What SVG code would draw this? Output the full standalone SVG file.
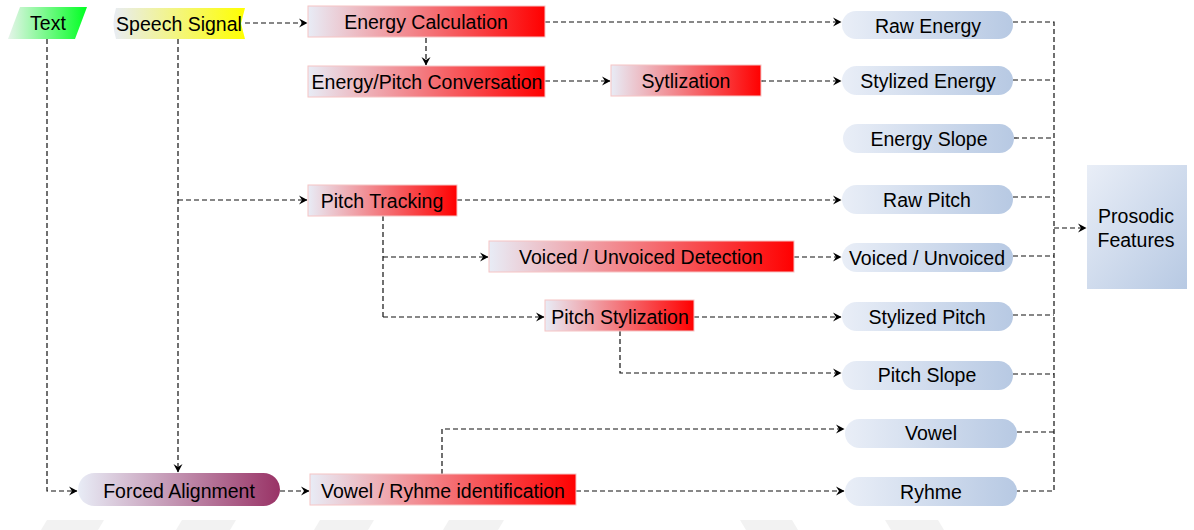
<svg xmlns="http://www.w3.org/2000/svg" width="1194" height="530" viewBox="0 0 1194 530">
  <defs>
    <linearGradient id="gRed" x1="0" y1="0" x2="1" y2="0">
      <stop offset="0" stop-color="#e8ecf6"/>
      <stop offset="1" stop-color="#ff0000"/>
    </linearGradient>
    <linearGradient id="gBlue" x1="0" y1="0" x2="1" y2="0">
      <stop offset="0" stop-color="#e9eef7"/>
      <stop offset="1" stop-color="#b7c9e3"/>
    </linearGradient>
    <linearGradient id="gBox" x1="0" y1="0" x2="1" y2="1">
      <stop offset="0" stop-color="#e9eef7"/>
      <stop offset="1" stop-color="#b7c9e3"/>
    </linearGradient>
    <linearGradient id="gGreen" x1="0" y1="0" x2="1" y2="0">
      <stop offset="0" stop-color="#e6f4ea"/>
      <stop offset="1" stop-color="#00ff22"/>
    </linearGradient>
    <linearGradient id="gYellow" x1="0" y1="0" x2="1" y2="0">
      <stop offset="0" stop-color="#e8ecf4"/>
      <stop offset="1" stop-color="#ffff00"/>
    </linearGradient>
    <linearGradient id="gPurple" x1="0" y1="0" x2="1" y2="0">
      <stop offset="0" stop-color="#e8ecf6"/>
      <stop offset="1" stop-color="#993366"/>
    </linearGradient>
    <marker id="arr" viewBox="0 0 10 10" refX="9" refY="5" markerWidth="10" markerHeight="10" markerUnits="userSpaceOnUse" orient="auto">
      <path d="M1,0.5 L9.5,5 L1,9.5 L4,5 Z" fill="#000"/>
    </marker>
  </defs>
  <style>
    text { font-family: "Liberation Sans", Arial, sans-serif; font-size: 19.5px; fill: #000; text-anchor: middle; dominant-baseline: central; }
    .proc { fill: url(#gRed); stroke: #f6c4c4; stroke-width: 1; }
    .out { fill: url(#gBlue); }
    .link { fill: none; stroke: #111; stroke-width: 1.2; stroke-dasharray: 5 3; }
    .arrow { marker-end: url(#arr); }
    .mark { fill: #f2f2f2; }
  </style>

  <rect width="1194" height="530" fill="#ffffff"/>

  <!-- faint footer marks -->
  <g id="footer">
    <polygon class="mark" points="47,520 104,520 98,530 41,530"/>
    <polygon class="mark" points="182,520 236,520 230,530 176,530"/>
    <polygon class="mark" points="320,520 374,520 368,530 314,530"/>
    <polygon class="mark" points="449,520 504,520 498,530 443,530"/>
    <polygon class="mark" points="740,520 792,520 798,530 746,530"/>
    <polygon class="mark" points="885,520 938,520 944,530 891,530"/>
  </g>

  <g id="connectors">
    <!-- energy branch -->
    <path class="link arrow" d="M245,23 H307"/>
    <path class="link arrow" d="M545,22 H841"/>
    <path class="link arrow" d="M426,38 V65"/>
    <path class="link arrow" d="M545,81 H610"/>
    <path class="link arrow" d="M761,81 H841"/>
    <!-- speech signal trunk -->
    <path class="link arrow" d="M178,39 V472"/>
    <path class="link arrow" d="M178,200 H307"/>
    <!-- text to forced alignment -->
    <path class="link arrow" d="M47,39 V491 H77"/>
    <!-- pitch branch -->
    <path class="link arrow" d="M457,200 H841"/>
    <path class="link" d="M383,216 V317"/>
    <path class="link arrow" d="M383,257 H488"/>
    <path class="link arrow" d="M383,317 H544"/>
    <path class="link arrow" d="M794,257 H841"/>
    <path class="link arrow" d="M694,317 H841"/>
    <path class="link arrow" d="M620,331 V373 H841"/>
    <!-- alignment branch -->
    <path class="link arrow" d="M280,491 H309"/>
    <path class="link arrow" d="M442,474 V429 H844"/>
    <path class="link arrow" d="M576,491 H844"/>
    <!-- collection bus -->
    <path class="link" d="M1013,22 H1054 V491 H1017"/>
    <path class="link" d="M1013,80 H1054"/>
    <path class="link" d="M1014,138 H1054"/>
    <path class="link" d="M1013,197 H1054"/>
    <path class="link" d="M1013,256 H1054"/>
    <path class="link" d="M1013,315 H1054"/>
    <path class="link" d="M1013,374 H1054"/>
    <path class="link" d="M1017,432 H1054"/>
    <path class="link arrow" d="M1054,228 H1086"/>
  </g>

  <!-- inputs -->
  <g id="text-input">
    <polygon points="20,7 87,7 75,39 8,39" fill="url(#gGreen)"/>
    <text x="48" y="23">Text</text>
  </g>
  <g id="speech-signal">
    <path d="M116,8 H245 L241,23.5 L245,39 H116 Q111,23.5 116,8 Z" fill="url(#gYellow)"/>
    <text x="179" y="24">Speech Signal</text>
  </g>

  <!-- processing steps -->
  <g id="energy-calculation">
    <rect class="proc" x="308" y="6" width="237" height="31"/>
    <text x="426" y="22">Energy Calculation</text>
  </g>
  <g id="energy-pitch-conversation">
    <rect class="proc" x="308" y="66" width="237" height="31"/>
    <text x="427" y="82">Energy/Pitch Conversation</text>
  </g>
  <g id="sytlization">
    <rect class="proc" x="611" y="65" width="150" height="31"/>
    <text x="686" y="81">Sytlization</text>
  </g>
  <g id="pitch-tracking">
    <rect class="proc" x="308" y="185" width="149" height="31"/>
    <text x="382" y="201">Pitch Tracking</text>
  </g>
  <g id="voiced-unvoiced-detection">
    <rect class="proc" x="489" y="241" width="305" height="31"/>
    <text x="641" y="257">Voiced / Unvoiced Detection</text>
  </g>
  <g id="pitch-stylization">
    <rect class="proc" x="545" y="300" width="149" height="31"/>
    <text x="620" y="317">Pitch Stylization</text>
  </g>
  <g id="forced-alignment">
    <rect x="78" y="473" width="202" height="33" rx="16.5" fill="url(#gPurple)"/>
    <text x="179" y="491">Forced Alignment</text>
  </g>
  <g id="vowel-ryhme-identification">
    <rect class="proc" x="310" y="474" width="266" height="31"/>
    <text x="443" y="491">Vowel / Ryhme identification</text>
  </g>

  <!-- extracted features -->
  <g id="raw-energy">
    <rect class="out" x="842" y="11" width="171" height="28" rx="14"/>
    <text x="928" y="26">Raw Energy</text>
  </g>
  <g id="stylized-energy">
    <rect class="out" x="842" y="66" width="171" height="29" rx="14.5"/>
    <text x="928" y="81">Stylized Energy</text>
  </g>
  <g id="energy-slope">
    <rect class="out" x="843" y="124" width="171" height="29" rx="14.5"/>
    <text x="929" y="139">Energy Slope</text>
  </g>
  <g id="raw-pitch">
    <rect class="out" x="842" y="185" width="171" height="29" rx="14.5"/>
    <text x="927" y="200">Raw Pitch</text>
  </g>
  <g id="voiced-unvoiced">
    <rect class="out" x="842" y="243" width="171" height="29" rx="14.5"/>
    <text x="927" y="258">Voiced / Unvoiced</text>
  </g>
  <g id="stylized-pitch">
    <rect class="out" x="842" y="302" width="171" height="29" rx="14.5"/>
    <text x="927" y="317">Stylized Pitch</text>
  </g>
  <g id="pitch-slope">
    <rect class="out" x="842" y="361" width="171" height="29" rx="14.5"/>
    <text x="927" y="375">Pitch Slope</text>
  </g>
  <g id="vowel">
    <rect class="out" x="845" y="419" width="172" height="29" rx="14.5"/>
    <text x="931" y="433">Vowel</text>
  </g>
  <g id="ryhme">
    <rect class="out" x="845" y="477" width="172" height="29" rx="14.5"/>
    <text x="931" y="492">Ryhme</text>
  </g>

  <g id="prosodic-features">
    <rect x="1087" y="165" width="100" height="124" fill="url(#gBox)"/>
    <text x="1136" y="216">Prosodic</text>
    <text x="1136" y="240">Features</text>
  </g>
</svg>
